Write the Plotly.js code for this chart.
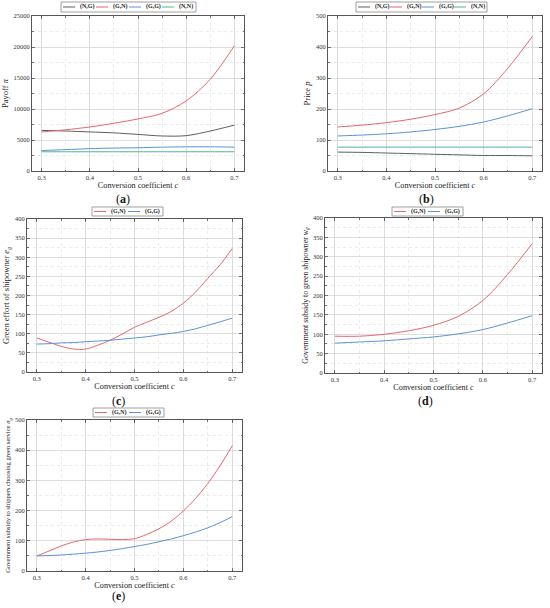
<!DOCTYPE html>
<html>
<head>
<meta charset="utf-8">
<script src="https://cdn.plot.ly/plotly-3.0.1.min.js"></script>
<style>html,body{margin:0;padding:0;background:#fff;}#chart{width:550px;height:608px;}</style>
</head>
<body>
<div id="chart"></div>
<script>
// ---------- data ----------
const cCoarse = [0.3, 0.35, 0.4, 0.45, 0.5, 0.55, 0.6, 0.65, 0.7];
const cFine = [0.3, 0.325, 0.35, 0.375, 0.4, 0.425, 0.45, 0.475, 0.5, 0.525, 0.55, 0.575, 0.6, 0.625, 0.65, 0.675, 0.7];

const seriesNames4 = ["(N,G)", "(G,N)", "(G,G)", "(N,N)"];
const seriesNames2 = ["(G,N)", "(G,G)"];

// (a) Payoff π
const payoffNG = [6550, 6450, 6300, 6150, 5900, 5650, 5700, 6450, 7400];
const payoffGN = [6300, 6650, 7100, 7700, 8400, 9300, 11300, 14800, 20200];
const payoffGG = [3300, 3450, 3600, 3700, 3750, 3850, 3900, 3900, 3850];
const payoffNN = [3100, 3100, 3100, 3100, 3100, 3100, 3100, 3100, 3100];

// (b) Price p
const priceNG = [61, 60, 58, 56, 54, 52, 50, 50, 49];
const priceGN = [142, 148, 156, 167, 182, 203, 249, 332, 434];
const priceGG = [113, 116, 120, 126, 134, 144, 158, 178, 201];
const priceNN = [77, 77, 77, 77, 77, 77, 77, 77, 77];

// (c) Green effort of shipowner e_g
const effortGN = [89, 78, 67, 60, 60, 70, 83, 99, 117, 130, 143, 158, 180, 209, 245, 280, 323];
const effortGG = [73, 74, 76, 77, 79, 81, 83, 86, 89, 92, 97, 101, 106, 113, 122, 131, 141];

// (d) Government subsidy to green shipowner w_g
const subsidyWGN = [95, 95, 100, 109, 123, 146, 187, 254, 334];
const subsidyWGG = [77, 80, 83, 88, 93, 101, 112, 129, 148];

// (e) Government subsidy to shippers choosing green service σ_g
const subsidySGN = [50, 66, 83, 96, 104, 106, 105, 104, 107, 121, 140, 165, 199, 240, 290, 348, 415];
const subsidySGG = [50, 51, 53, 56, 59, 63, 68, 74, 81, 88, 97, 106, 117, 129, 143, 160, 180];

const xTicks = [0.3, 0.4, 0.5, 0.6, 0.7];

// ---------- styling ----------
const W = 550, H = 608;
const px = v => v / W;
const py = v => 1 - v / H;
const FONT = "Liberation Serif, DejaVu Serif, serif";
const colors = {"(N,G)": "#5f5f5f", "(G,N)": "#e6676d", "(G,G)": "#5b92da", "(N,N)": "#4fb38e"};

function line(x, y, name, ax) {
  return {x: x, y: y, name: name, type: "scatter", mode: "lines",
    line: {color: colors[name], width: 1, shape: "spline", smoothing: 0.9},
    xaxis: "x" + ax, yaxis: "y" + ax, showlegend: false, hoverinfo: "x+y+name"};
}

const traces = [
  line(cCoarse, payoffNG, "(N,G)", ""), line(cCoarse, payoffGN, "(G,N)", ""),
  line(cCoarse, payoffGG, "(G,G)", ""), line(cCoarse, payoffNN, "(N,N)", ""),
  line(cCoarse, priceNG, "(N,G)", "2"), line(cCoarse, priceGN, "(G,N)", "2"),
  line(cCoarse, priceGG, "(G,G)", "2"), line(cCoarse, priceNN, "(N,N)", "2"),
  line(cFine, effortGN, "(G,N)", "3"), line(cFine, effortGG, "(G,G)", "3"),
  line(cCoarse, subsidyWGN, "(G,N)", "4"), line(cCoarse, subsidyWGG, "(G,G)", "4"),
  line(cFine, subsidySGN, "(G,N)", "5"), line(cFine, subsidySGG, "(G,G)", "5")
];

function xAxis(domain, anchor) {
  return {
    domain: domain, anchor: anchor, range: [0.28, 0.72], tickvals: xTicks,
    showline: true, mirror: "ticks", linecolor: "#555", linewidth: 1,
    ticks: "inside", ticklen: 3, tickcolor: "#555", tickwidth: 0.8,
    showgrid: true, gridcolor: "#d6d6d6", gridwidth: 0.8, zeroline: false,
    minor: {dtick: 0.05, tick0: 0.3, ticks: "inside", ticklen: 1.5, tickcolor: "#555", showgrid: true, gridcolor: "#e6e6e6", griddash: "dot"},
    tickfont: {family: FONT, size: 6.5, color: "#333"},
    title: {text: "Conversion coefficient <i>c</i>", font: {family: FONT, size: 8.2, color: "#222"}, standoff: 1}
  };
}
function yAxis(domain, anchor, range, dtick, title, tsize) {
  return {
    domain: domain, anchor: anchor, range: range, dtick: dtick, tick0: 0,
    showline: true, mirror: "ticks", linecolor: "#555", linewidth: 1,
    ticks: "inside", ticklen: 3, tickcolor: "#555", tickwidth: 0.8,
    showgrid: true, gridcolor: "#d6d6d6", gridwidth: 0.8, zeroline: false,
    minor: {dtick: dtick / 2, ticks: "inside", ticklen: 1.5, tickcolor: "#555", showgrid: true, gridcolor: "#e6e6e6", griddash: "dot"},
    tickfont: {family: FONT, size: 6.5, color: "#333"},
    title: {text: title, font: {family: FONT, size: tsize, color: "#222"}, standoff: 3}
  };
}

const dom = {
  a: {x: [px(32), px(244)], y: [py(171), py(16)]},
  b: {x: [px(328), px(542)], y: [py(171), py(16)]},
  c: {x: [px(27), px(242)], y: [py(372), py(219)]},
  d: {x: [px(325), px(542)], y: [py(373), py(218)]},
  e: {x: [px(27), px(242)], y: [py(571), py(420)]}
};

const shapes = [], annotations = [];
// legend boxes: positions in pixels
function legend(names, left, top, bottom, step) {
  const right = left + 3 + names.length * step;
  shapes.push({type: "rect", xref: "paper", yref: "paper", x0: px(left), x1: px(right), y0: py(bottom), y1: py(top),
    line: {color: "#888", width: 0.8}, fillcolor: "rgba(255,255,255,0)"});
  const ym = (top + bottom) / 2;
  names.forEach((n, i) => {
    const x0 = left + 2 + i * step;
    shapes.push({type: "line", xref: "paper", yref: "paper", x0: px(x0), x1: px(x0 + 12), y0: py(ym), y1: py(ym),
      line: {color: colors[n], width: 1}});
    annotations.push({xref: "paper", yref: "paper", x: px(x0 + 15), y: py(ym), xanchor: "left", yanchor: "middle",
      text: "<b>" + n + "</b>", showarrow: false, font: {family: FONT, size: 6, color: "#222"}});
  });
}
legend(seriesNames4, 61, 2, 12, 33);
legend(seriesNames4, 356, 2, 12, 32);
legend(seriesNames2, 92, 207, 216, 34);
legend(seriesNames2, 392, 207, 216, 34);
legend(seriesNames2, 93, 408, 417, 34);

function caption(t, x, y) {
  annotations.push({xref: "paper", yref: "paper", x: px(x), y: py(y), xanchor: "center", yanchor: "middle",
    text: "(<b>" + t + "</b>)", showarrow: false, font: {family: FONT, size: 12, color: "#111"}});
}
caption("a", 123, 199);
caption("b", 426, 199);
caption("c", 118, 401);
caption("d", 425, 401);
caption("e", 118, 596);

const layout = {
  width: W, height: H, margin: {l: 0, r: 0, t: 0, b: 0},
  paper_bgcolor: "#fff", plot_bgcolor: "#fff", showlegend: false,
  xaxis: xAxis(dom.a.x, "y"), yaxis: yAxis(dom.a.y, "x", [0, 25000], 5000, "Payoff <i>π</i>", 8.5),
  xaxis2: xAxis(dom.b.x, "y2"), yaxis2: yAxis(dom.b.y, "x2", [0, 500], 100, "Price <i>p</i>", 8.5),
  xaxis3: xAxis(dom.c.x, "y3"), yaxis3: yAxis(dom.c.y, "x3", [0, 400], 50, "Green effort of shipowner <i>e<sub>g</sub></i>", 8.5),
  xaxis4: xAxis(dom.d.x, "y4"), yaxis4: yAxis(dom.d.y, "x4", [0, 400], 50, "Government subsidy to green shipowner <i>w<sub>g</sub></i>", 7.8),
  xaxis5: xAxis(dom.e.x, "y5"), yaxis5: yAxis(dom.e.y, "x5", [0, 500], 100, "Government subsidy to shippers choosing green service <i>σ<sub>g</sub></i>", 6.6),
  shapes: shapes, annotations: annotations
};
layout.yaxis.tickformat = "d";

Plotly.newPlot("chart", traces, layout, {staticPlot: true, displayModeBar: false});
</script>
</body>
</html>
